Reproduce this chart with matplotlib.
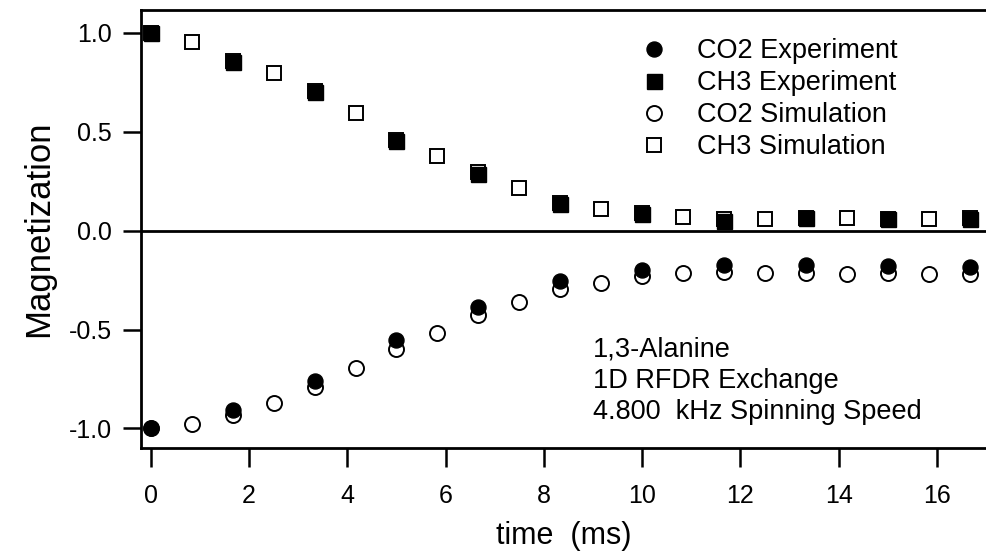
import matplotlib
matplotlib.use("Agg")
import matplotlib.pyplot as plt
import numpy as np

plt.rcParams['font.family'] = ['Liberation Sans', 'DejaVu Sans']
plt.rcParams['axes.unicode_minus'] = False

# experiment sampled every 1.667 ms, simulation every 0.833 ms
t_exp = [0, 1.667, 3.333, 5.0, 6.667, 8.333, 10.0, 11.667, 13.333, 15.0, 16.667]
co2_exp = [-1.0, -0.909, -0.762, -0.554, -0.386, -0.256, -0.197, -0.175, -0.175, -0.18, -0.186]
ch3_exp = [1.0, 0.855, 0.70, 0.453, 0.288, 0.133, 0.083, 0.05, 0.062, 0.057, 0.06]

t_sim = [0, 0.833, 1.667, 2.5, 3.333, 4.167, 5.0, 5.833, 6.667, 7.5, 8.333,
         9.167, 10.0, 10.833, 11.667, 12.5, 13.333, 14.167, 15.0, 15.833, 16.667]
co2_sim = [-1.0, -0.976, -0.934, -0.872, -0.79, -0.695, -0.60, -0.515, -0.428, -0.36, -0.293,
           -0.264, -0.23, -0.212, -0.209, -0.212, -0.212, -0.217, -0.214, -0.22, -0.217]
ch3_sim = [1.0, 0.953, 0.86, 0.796, 0.705, 0.593, 0.46, 0.38, 0.295, 0.217, 0.14,
           0.107, 0.088, 0.07, 0.058, 0.057, 0.062, 0.062, 0.06, 0.06, 0.062]

xticks = [0, 2, 4, 6, 8, 10, 12, 14, 16]
yticks = [-1.0, -0.5, 0.0, 0.5, 1.0]

fig = plt.figure(figsize=(9.86, 5.52), dpi=100)
ax = fig.add_axes([0.143, 0.188, 0.857, 0.794])

ms = 10.8
ax.plot(t_exp, co2_exp, 'o', color='black', ms=ms, label='CO2 Experiment', zorder=4)
ax.plot(t_exp, ch3_exp, 's', color='black', ms=ms, label='CH3 Experiment', zorder=4)
ax.plot(t_sim, co2_sim, 'o', mfc='white', mec='black', mew=1.4, ms=ms,
        label='CO2 Simulation', zorder=3)
ax.plot(t_sim, ch3_sim, 's', mfc='white', mec='black', mew=1.4, ms=ms - 0.5,
        label='CH3 Simulation', zorder=3)

ax.axhline(0, color='black', lw=2.0, zorder=2)

ax.set_xlim(-0.2, 17.0)
ax.set_ylim(-1.10, 1.116)
ax.set_xticks(xticks)
ax.set_yticks(yticks)
ax.set_yticklabels(['%.1f' % v for v in yticks])

for s in ['left', 'top', 'bottom']:
    ax.spines[s].set_linewidth(2.0)
ax.spines['right'].set_visible(False)

ax.tick_params(axis='x', direction='out', length=14, width=1.8, pad=12, labelsize=18)
ax.tick_params(axis='y', direction='out', length=13, width=1.8, pad=8, labelsize=18)

ax.set_xlabel('time  (ms)', fontsize=22, labelpad=9)
ax.set_ylabel('Magnetization', fontsize=25, labelpad=10)

ax.legend(loc='upper left', bbox_to_anchor=(0.575, 0.96), frameon=False,
          fontsize=19.5, handlelength=1.2, handletextpad=1.0, labelspacing=0.22,
          borderaxespad=0)

ax.text(0.535, 0.255, '1,3-Alanine\n1D RFDR Exchange\n4.800  kHz Spinning Speed',
        transform=ax.transAxes, fontsize=19.5, va='top', ha='left', linespacing=1.27)

fig.savefig('out.png', dpi=100)
